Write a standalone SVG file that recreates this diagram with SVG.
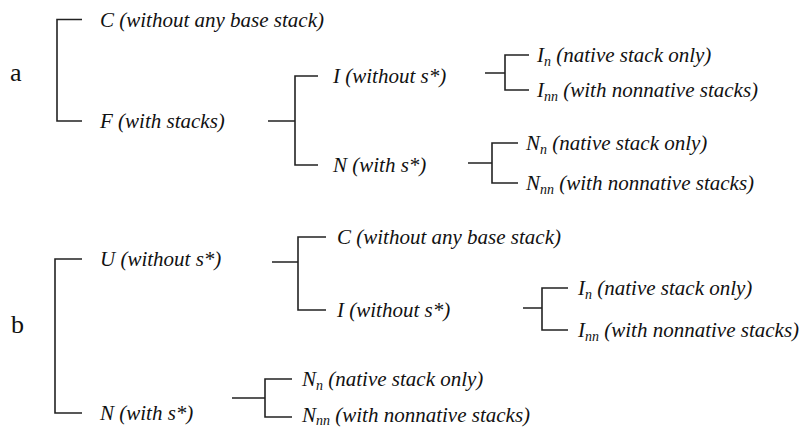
<svg xmlns="http://www.w3.org/2000/svg" width="811" height="427" viewBox="0 0 811 427">
  <rect width="811" height="427" fill="#fff"/>

  <!-- panel labels -->
  <text font-family="Liberation Serif" font-size="26" fill="#111" x="10" y="81">a</text>
  <text font-family="Liberation Serif" font-size="26" fill="#111" x="11" y="333">b</text>

  <!-- tree connectors -->
  <g id="connectors" fill="none" stroke="#222" stroke-width="1.6">
    <!-- panel a -->
    <path d="M82,19.5 H57 V121 H82"/>
    <path d="M268,121 H295 M318,76 H295 V165 H318"/>
    <path d="M485,73 H505 M529,55 H505 V90 H529"/>
    <path d="M468,163 H492 M518,143 H492 V183 H518"/>
    <!-- panel b -->
    <path d="M82,259 H55 V413 H82"/>
    <path d="M272,262 H298 M326,237 H298 V310 H326"/>
    <path d="M523,308 H542 M568,288 H542 V330 H568"/>
    <path d="M232,398 H265 M292,379 H265 V417 H292"/>
  </g>

  <!-- panel a nodes -->
  <g id="a-C"><text font-family="Liberation Serif" font-size="21" font-style="italic" fill="#111" x="100" y="27">C (without any base stack)</text></g>
  <g id="a-F"><text font-family="Liberation Serif" font-size="21" font-style="italic" fill="#111" x="100" y="128">F (with stacks)</text></g>
  <g id="a-I"><text font-family="Liberation Serif" font-size="21" font-style="italic" fill="#111" x="333" y="83">I (without s*)</text></g>
  <g id="a-N"><text font-family="Liberation Serif" font-size="21" font-style="italic" fill="#111" x="333" y="172">N (with s*)</text></g>
  <g id="a-In"><text font-family="Liberation Serif" font-size="21" font-style="italic" fill="#111" x="537" y="62">I<tspan font-size="14" dy="4">n</tspan><tspan dy="-4"> (native stack only)</tspan></text></g>
  <g id="a-Inn"><text font-family="Liberation Serif" font-size="21" font-style="italic" fill="#111" x="537" y="97">I<tspan font-size="14" dy="4">nn</tspan><tspan dy="-4"> (with nonnative stacks)</tspan></text></g>
  <g id="a-Nn"><text font-family="Liberation Serif" font-size="21" font-style="italic" fill="#111" x="526" y="150">N<tspan font-size="14" dy="4">n</tspan><tspan dy="-4"> (native stack only)</tspan></text></g>
  <g id="a-Nnn"><text font-family="Liberation Serif" font-size="21" font-style="italic" fill="#111" x="526" y="190">N<tspan font-size="14" dy="4">nn</tspan><tspan dy="-4"> (with nonnative stacks)</tspan></text></g>

  <!-- panel b nodes -->
  <g id="b-U"><text font-family="Liberation Serif" font-size="21" font-style="italic" fill="#111" x="100" y="266">U (without s*)</text></g>
  <g id="b-N"><text font-family="Liberation Serif" font-size="21" font-style="italic" fill="#111" x="100" y="420">N (with s*)</text></g>
  <g id="b-C"><text font-family="Liberation Serif" font-size="21" font-style="italic" fill="#111" x="337" y="244">C (without any base stack)</text></g>
  <g id="b-I"><text font-family="Liberation Serif" font-size="21" font-style="italic" fill="#111" x="337" y="317">I (without s*)</text></g>
  <g id="b-In"><text font-family="Liberation Serif" font-size="21" font-style="italic" fill="#111" x="578" y="295">I<tspan font-size="14" dy="4">n</tspan><tspan dy="-4"> (native stack only)</tspan></text></g>
  <g id="b-Inn"><text font-family="Liberation Serif" font-size="21" font-style="italic" fill="#111" x="578" y="337">I<tspan font-size="14" dy="4">nn</tspan><tspan dy="-4"> (with nonnative stacks)</tspan></text></g>
  <g id="b-Nn"><text font-family="Liberation Serif" font-size="21" font-style="italic" fill="#111" x="302" y="386">N<tspan font-size="14" dy="4">n</tspan><tspan dy="-4"> (native stack only)</tspan></text></g>
  <g id="b-Nnn"><text font-family="Liberation Serif" font-size="21" font-style="italic" fill="#111" x="302" y="422">N<tspan font-size="14" dy="3">nn</tspan><tspan dy="-3"> (with nonnative stacks)</tspan></text></g>
</svg>
